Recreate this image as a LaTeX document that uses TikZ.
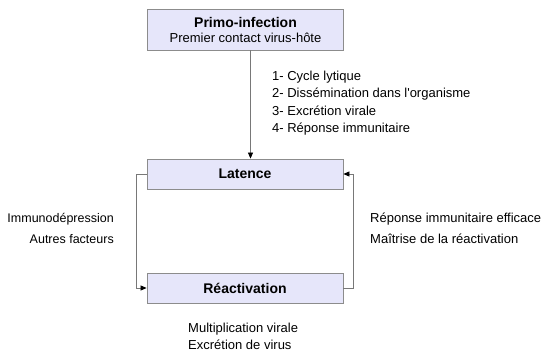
\documentclass[tikz,border=0pt]{standalone}
\usepackage{fontspec}
\setmainfont{Liberation Sans}
\usetikzlibrary{arrows.meta}
\definecolor{boxfill}{RGB}{230,230,250}
\definecolor{boxline}{RGB}{140,140,140}
\definecolor{linkline}{RGB}{120,120,120}
\tikzset{
  stage/.style={draw=boxline, fill=boxfill, line width=0.8pt, minimum width=196pt,
    minimum height=30pt, inner sep=0pt, font=\fontsize{14}{16}\selectfont\bfseries},
  link/.style={draw=linkline, line width=0.7pt, -{Triangle[length=6pt,width=5pt,fill=black,color=black]}},
  note/.style={inner sep=0pt, font=\fontsize{13}{17.3}\selectfont},
}
\begin{document}
\begin{tikzpicture}[x=1pt, y=-1pt]
  \useasboundingbox (0,0) rectangle (542,351);

  % stages
  \node[stage, minimum height=41pt, align=center] (primo) at (245.5,29.5)
    {Primo-infection\\[-1pt]{\fontsize{13}{15}\selectfont\mdseries Premier contact virus-hôte}};
  \node[stage] (latence) at (245,174) {Latence};
  \node[stage] (react) at (245,288) {Réactivation};

  % link from primo-infection to latency
  \coordinate (pdown) at ([xshift=5pt]primo.south);
  \draw[link] (pdown) -- (pdown |- latence.north);

  % loop latency -> reactivation (left)
  \coordinate (lw) at ([xshift=-10pt]latence.west);
  \draw[link] (latence.west) -- (lw) |- (react.west);

  % loop reactivation -> latency (right)
  \coordinate (re) at ([xshift=10pt]react.east);
  \draw[link] (react.east) -- (re) |- (latence.east);

  % annotations
  \node[note, anchor=north west, align=left] (steps) at (272,71)
    {1- Cycle lytique\\2- Dissémination dans l\textquotesingle organisme\\3- Excrétion virale\\4- Réponse immunitaire};
  \node[note, anchor=east, align=right, font=\fontsize{12.5}{21}\selectfont] (causes) at (114,228)
    {Immunodépression\\Autres facteurs};
  \node[note, anchor=west, align=left, font=\fontsize{13}{21}\selectfont] (control) at (370,228)
    {Réponse immunitaire efficace\\Maîtrise de la réactivation};
  \node[note, anchor=north west, align=left] (effects) at (188,322.5)
    {Multiplication virale\\Excrétion de virus};
\end{tikzpicture}
\end{document}
